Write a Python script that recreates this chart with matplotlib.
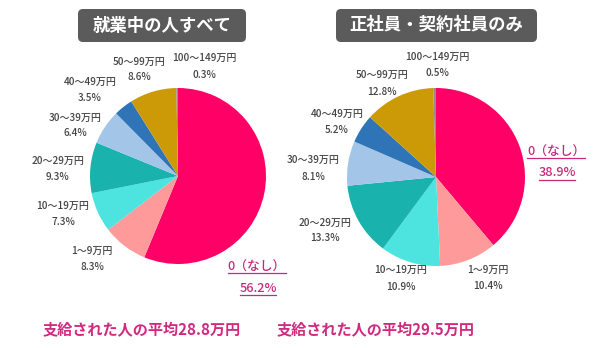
import matplotlib.pyplot as plt
from matplotlib.patches import FancyBboxPatch

plt.rcParams['font.family'] = ['Noto Sans CJK JP', 'DejaVu Sans']

categories = ['0（なし）', '1～9万円', '10～19万円', '20～29万円',
              '30～39万円', '40～49万円', '50～99万円', '100～149万円']
all_workers = [56.2, 8.3, 7.3, 9.3, 6.4, 3.5, 8.6, 0.3]
regular_workers = [38.9, 10.4, 10.9, 13.3, 8.1, 5.2, 12.8, 0.5]
titles = ['就業中の人すべて', '正社員・契約社員のみ']
averages = ['支給された人の平均28.8万円', '支給された人の平均29.5万円']

colors = ['#FF0066', '#FF9A9A', '#4DE3DF', '#1AB2AC',
          '#A3C5E8', '#2E74B7', '#CC9A06', '#9A8A90']
label_color = '#444444'
pink = '#C8287C'

W, H = 615, 348
fig = plt.figure(figsize=(6.15, 3.48), dpi=100)
ax = fig.add_axes([0, 0, 1, 1])


def Y(y):
    # pixel row (from top) -> data y
    return H - y


# pie layout: centre (px), radius, title box, label positions for each category
layouts = [
    dict(values=all_workers, center=(178, 176), r=88,
         box=(78, 9, 168, 33),
         labels=[(257, 267, 288), (92, 251, 267), (63, 206, 222), (58, 161, 177),
                 (75, 118, 133), (90, 82, 98), (139, 62, 77), (204, 58, 75)],
         avg_x=142),
    dict(values=regular_workers, center=(436, 177), r=89,
         box=(336, 9, 201, 33),
         labels=[(556, 152, 173), (488, 270, 286), (401, 270, 287), (325, 223, 238),
                 (313, 160, 177), (337, 114, 130), (382, 75, 92), (437, 57, 73)],
         avg_x=376),
]

for i, lay in enumerate(layouts):
    cx, cy = lay['center']
    ax.pie(lay['values'], colors=colors, startangle=90, counterclock=False,
           center=(cx, Y(cy)), radius=lay['r'], frame=True,
           wedgeprops=dict(linewidth=0))

    bx, by, bw, bh = lay['box']
    ax.add_patch(FancyBboxPatch((bx, Y(by + bh)), bw, bh,
                                boxstyle='round,pad=0,rounding_size=5',
                                facecolor='#5B5B5B', edgecolor='none'))
    ax.text(bx + bw / 2, Y(by + bh / 2), titles[i], color='white', fontsize=12.5,
            fontweight='bold', ha='center', va='center')

    for k, (lx, ly1, ly2) in enumerate(lay['labels']):
        if k == 0:
            ax.text(lx, Y(ly1), categories[k], color=pink, fontsize=9.2,
                    ha='center', va='center', fontweight='medium')
            ax.text(lx + 1, Y(ly2), f'{lay["values"][k]}%', color=pink,
                    fontsize=9.2, ha='center', va='center', fontweight='medium')
            ax.plot([lx - 29, lx + 29], [Y(ly1 + 6), Y(ly1 + 6)], color=pink, lw=0.9)
            ax.plot([lx - 17, lx + 19], [Y(ly2 + 7), Y(ly2 + 7)], color=pink, lw=0.9)
        else:
            ax.text(lx, Y(ly1), categories[k], color=label_color, fontsize=7.2,
                    ha='center', va='center', fontweight='medium')
            ax.text(lx, Y(ly2), f'{lay["values"][k]}%', color=label_color,
                    fontsize=7.2, ha='center', va='center', fontweight='medium')

    ax.text(lay['avg_x'], Y(329), averages[i], color='#D02A80', fontsize=10.9,
            fontweight='bold', ha='center', va='center')

ax.set_xlim(0, W)
ax.set_ylim(0, H)
ax.set_aspect('equal')
ax.axis('off')

fig.savefig('out.png', dpi=100, facecolor='white')
